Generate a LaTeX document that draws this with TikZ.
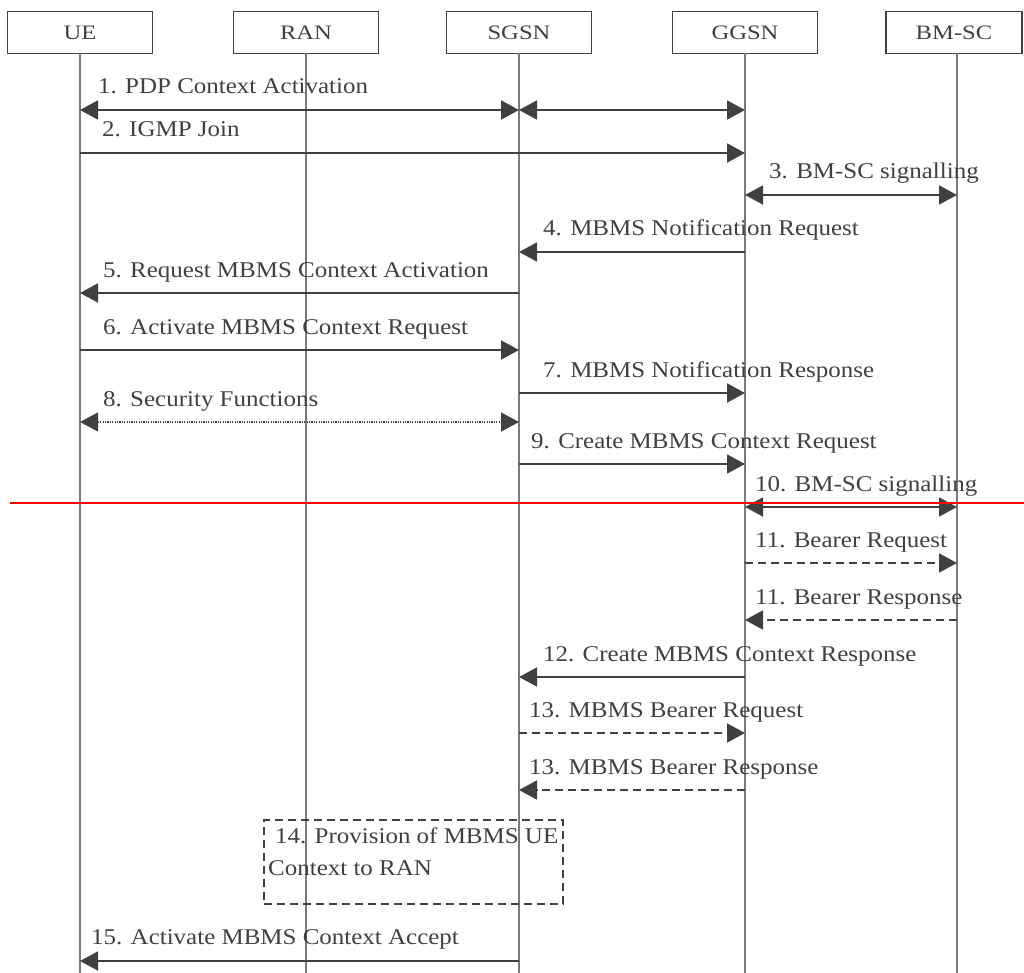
\documentclass[tikz,border=0pt]{standalone}
\usepackage{fontspec}
\setmainfont{Liberation Serif}[FakeStretch=1.11]
\newfontfamily\headfont{Liberation Serif}[FakeStretch=1.2]
\usetikzlibrary{arrows.meta}
\definecolor{ink}{HTML}{404040}
\definecolor{life}{HTML}{7a7a7a}
\begin{document}
\begin{tikzpicture}[x=1pt,y=-1pt,
  entity/.style={draw=ink, line width=1.3pt, minimum width=145pt, minimum height=42pt,
    inner sep=0pt, font=\headfont\fontsize{20.5}{24}\selectfont, text=ink},
  lifeline/.style={draw=life, line width=1.3pt},
  msg/.style={draw=ink, line width=1.8pt, -{Triangle[length=18pt,width=19pt]}},
  both/.style={{Triangle[length=18pt,width=19pt]}-{Triangle[length=18pt,width=19pt]}},
  dashmsg/.style={msg, dash pattern=on 8pt off 5pt},
  dotmsg/.style={msg, both, line width=1.2pt, dash pattern=on 1.2pt off 1.2pt},
  lbl/.style={anchor=base west, inner sep=0pt, font=\fontsize{22.5}{26}\selectfont, text=ink},
  procbox/.style={draw=ink, line width=1.5pt, dash pattern=on 8pt off 5pt, anchor=north west,
    minimum width=299pt, minimum height=84pt, inner sep=0pt},
]
\useasboundingbox (0,0) rectangle (1024,973);

% entities
\node[entity] (ue)   at (80,32.5)  {UE};
\node[entity] (ran)  at (306,32.5) {RAN};
\node[entity] (sgsn) at (519,32.5) {SGSN};
\node[entity] (ggsn) at (745,32.5) {GGSN};
\node[entity, minimum width=136pt] (bmsc) at (954,32.5) {BM-SC};

% lifeline anchors
\coordinate (ueL)   at (80,53.5);
\coordinate (ranL)  at (306,53.5);
\coordinate (sgsnL) at (519,53.5);
\coordinate (ggsnL) at (745,53.5);
\coordinate (bmscL) at (957,53.5);
\foreach \n in {ueL,ranL,sgsnL,ggsnL,bmscL}
  \draw[lifeline] (\n) -- (\n |- 0,973);

% 1
\node[lbl] (l1) at (98,94) {1. PDP Context Activation};
\draw[msg, both] (ueL |- 0,110) -- (sgsnL |- 0,110);
\draw[msg, both] (sgsnL |- 0,110) -- (ggsnL |- 0,110);
% 2
\node[lbl] (l2) at (102,137) {2. IGMP Join};
\draw[msg] (ueL |- 0,153) -- (ggsnL |- 0,153);
% 3
\node[lbl] (l3) at (769,179) {3. BM-SC signalling};
\draw[msg, both] (ggsnL |- 0,195) -- (bmscL |- 0,195);
% 4
\node[lbl] (l4) at (543,236) {4. MBMS Notification Request};
\draw[msg] (ggsnL |- 0,252) -- (sgsnL |- 0,252);
% 5
\node[lbl] (l5) at (103,277) {5. Request MBMS Context Activation};
\draw[msg] (sgsnL |- 0,293) -- (ueL |- 0,293);
% 6
\node[lbl] (l6) at (103,334) {6. Activate MBMS Context Request};
\draw[msg] (ueL |- 0,350) -- (sgsnL |- 0,350);
% 7
\node[lbl] (l7) at (543,377) {7. MBMS Notification Response};
\draw[msg] (sgsnL |- 0,393) -- (ggsnL |- 0,393);
% 8
\node[lbl] (l8) at (103,406) {8. Security Functions};
\draw[dotmsg] (ueL |- 0,422) -- (sgsnL |- 0,422);
% 9
\node[lbl] (l9) at (531,448) {9. Create MBMS Context Request};
\draw[msg] (sgsnL |- 0,464) -- (ggsnL |- 0,464);
% 10
\node[lbl] (l10) at (755,491) {10. BM-SC signalling};
\draw[msg, both] (ggsnL |- 0,507) -- (bmscL |- 0,507);
% separator
\coordinate (sepA) at (10,503);
\coordinate (sepB) at (1024,503);
\draw[red, line width=1.4pt] (sepA) -- (sepB);
% 11
\node[lbl] (l11a) at (755,547) {11. Bearer Request};
\draw[dashmsg] (ggsnL |- 0,563) -- (bmscL |- 0,563);
\node[lbl] (l11b) at (755,604) {11. Bearer Response};
\draw[dashmsg] (bmscL |- 0,620) -- (ggsnL |- 0,620);
% 12
\node[lbl] (l12) at (543,661) {12. Create MBMS Context Response};
\draw[msg] (ggsnL |- 0,677) -- (sgsnL |- 0,677);
% 13
\node[lbl] (l13a) at (529,717) {13. MBMS Bearer Request};
\draw[dashmsg] (sgsnL |- 0,733) -- (ggsnL |- 0,733);
\node[lbl] (l13b) at (529,774) {13. MBMS Bearer Response};
\draw[dashmsg] (ggsnL |- 0,790) -- (sgsnL |- 0,790);
% 14
\node[procbox] (p14) at (263,819) {};
\node[lbl] (l14a) at (275,843) {14. Provision of MBMS UE};
\node[lbl] (l14b) at (268,875) {Context to RAN};
% 15
\node[lbl] (l15) at (91,944) {15. Activate MBMS Context Accept};
\draw[msg] (sgsnL |- 0,961) -- (ueL |- 0,961);
\end{tikzpicture}
\end{document}
